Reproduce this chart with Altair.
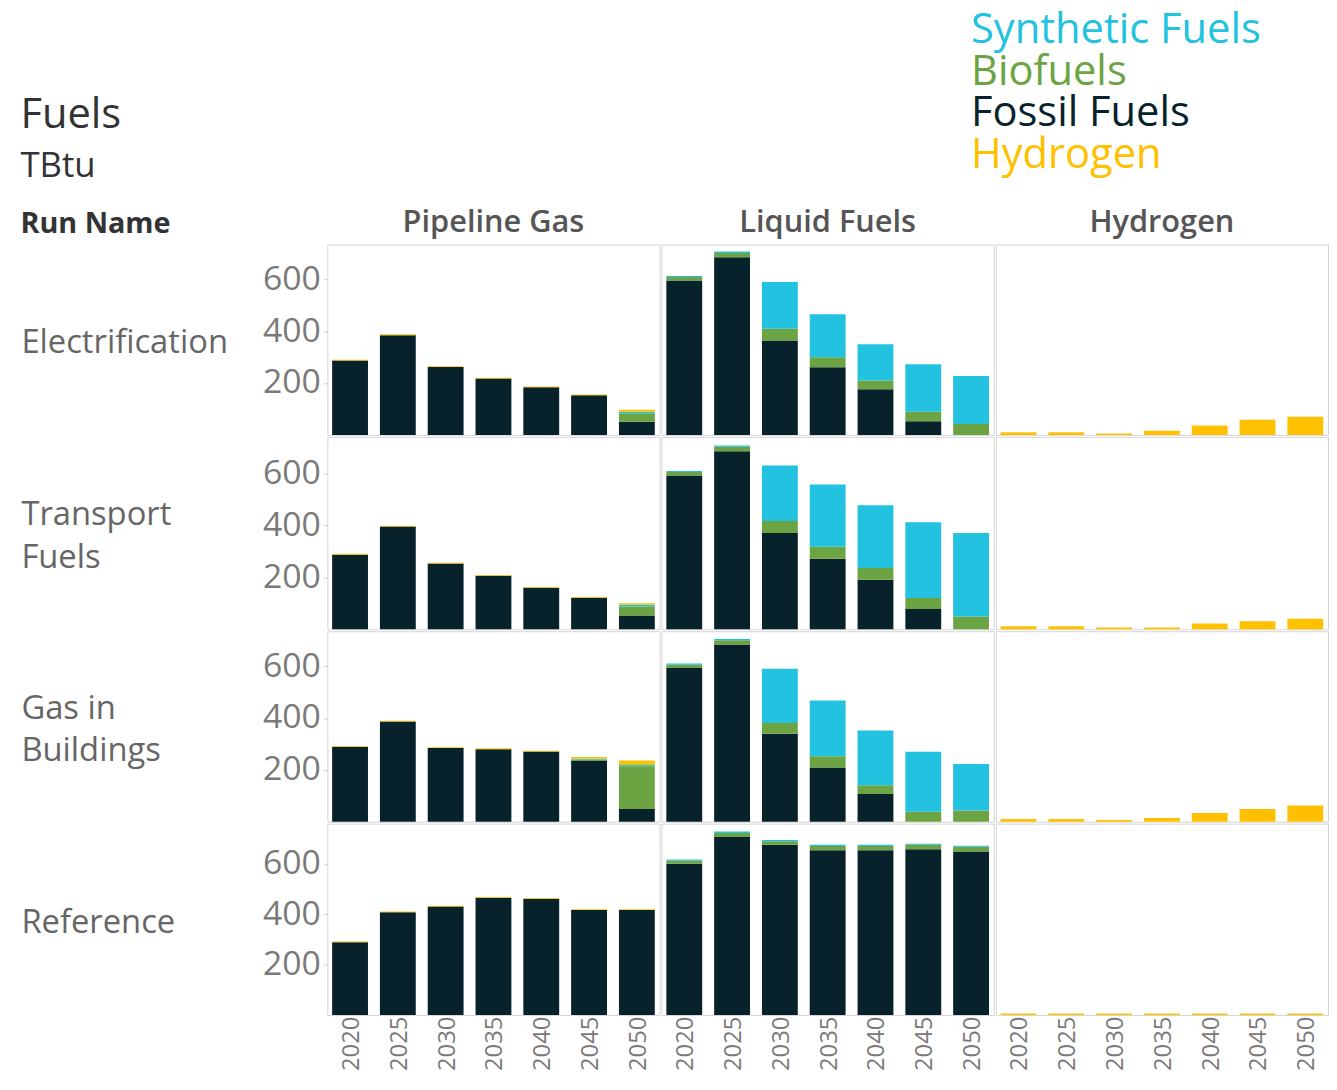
import altair as alt
import pandas as pd

years = [2020, 2025, 2030, 2035, 2040, 2045, 2050]
runs = ["Electrification", "Transport Fuels", "Gas in Buildings", "Reference"]
run_labels = [["Electrification"], ["Transport", "Fuels"], ["Gas in", "Buildings"], ["Reference"]]
fuel_types = ["Pipeline Gas", "Liquid Fuels", "Hydrogen"]
legend_order = ["Synthetic Fuels", "Biofuels", "Fossil Fuels", "Hydrogen"]
legend_colors = ["#22c2e0", "#6ca443", "#07222b", "#ffc000"]
stack_order = ["Fossil Fuels", "Biofuels", "Synthetic Fuels", "Hydrogen"]

# ---- Electrification ----
elec_gas_fossil = [287, 385, 262, 218, 184, 153, 51]
elec_gas_bio = [0, 0, 0, 0, 0, 0, 33]
elec_gas_synth = [0, 0, 0, 0, 0, 0, 5]
elec_gas_h2 = [3, 3, 3, 3, 3, 3, 8]
elec_liq_fossil = [596, 686, 364, 261, 176, 53, 0]
elec_liq_bio = [13, 16, 46, 39, 34, 36, 42]
elec_liq_synth = [4, 6, 180, 166, 140, 184, 185]
elec_h2_h2 = [10, 10, 5, 16, 36, 58, 70]

# ---- Transport Fuels ----
trans_gas_fossil = [287, 395, 253, 206, 160, 121, 53]
trans_gas_bio = [0, 0, 0, 0, 0, 0, 35]
trans_gas_synth = [0, 0, 0, 0, 0, 0, 6]
trans_gas_h2 = [3, 3, 3, 3, 3, 3, 6]
trans_liq_fossil = [591, 685, 370, 271, 190, 78, 0]
trans_liq_bio = [14, 17, 46, 46, 46, 42, 49]
trans_liq_synth = [4, 5, 214, 240, 241, 292, 321]
trans_h2_h2 = [12, 12, 7, 7, 22, 31, 40]

# ---- Gas in Buildings ----
bldg_gas_fossil = [289, 387, 284, 280, 271, 236, 49]
bldg_gas_bio = [0, 0, 0, 0, 0, 4, 165]
bldg_gas_synth = [0, 0, 0, 0, 0, 3, 5]
bldg_gas_h2 = [3, 3, 3, 3, 3, 7, 17]
bldg_liq_fossil = [593, 684, 339, 209, 107, 0, 0]
bldg_liq_bio = [13, 16, 42, 44, 34, 38, 43]
bldg_liq_synth = [5, 5, 209, 215, 211, 232, 180]
bldg_h2_h2 = [10, 10, 6, 14, 33, 49, 62]

# ---- Reference ----
ref_gas_fossil = [289, 408, 431, 466, 462, 417, 417]
ref_gas_h2 = [3, 3, 3, 3, 3, 3, 3]
ref_liq_fossil = [601, 707, 676, 654, 654, 658, 649]
ref_liq_bio = [13, 16, 14, 17, 17, 18, 19]
ref_liq_synth = [4, 6, 5, 5, 5, 4, 4]
ref_h2_h2 = [6, 6, 6, 6, 6, 6, 6]

series = [
    ("Electrification", "Pipeline Gas", "Fossil Fuels", elec_gas_fossil),
    ("Electrification", "Pipeline Gas", "Biofuels", elec_gas_bio),
    ("Electrification", "Pipeline Gas", "Synthetic Fuels", elec_gas_synth),
    ("Electrification", "Pipeline Gas", "Hydrogen", elec_gas_h2),
    ("Electrification", "Liquid Fuels", "Fossil Fuels", elec_liq_fossil),
    ("Electrification", "Liquid Fuels", "Biofuels", elec_liq_bio),
    ("Electrification", "Liquid Fuels", "Synthetic Fuels", elec_liq_synth),
    ("Electrification", "Hydrogen", "Hydrogen", elec_h2_h2),
    ("Transport Fuels", "Pipeline Gas", "Fossil Fuels", trans_gas_fossil),
    ("Transport Fuels", "Pipeline Gas", "Biofuels", trans_gas_bio),
    ("Transport Fuels", "Pipeline Gas", "Synthetic Fuels", trans_gas_synth),
    ("Transport Fuels", "Pipeline Gas", "Hydrogen", trans_gas_h2),
    ("Transport Fuels", "Liquid Fuels", "Fossil Fuels", trans_liq_fossil),
    ("Transport Fuels", "Liquid Fuels", "Biofuels", trans_liq_bio),
    ("Transport Fuels", "Liquid Fuels", "Synthetic Fuels", trans_liq_synth),
    ("Transport Fuels", "Hydrogen", "Hydrogen", trans_h2_h2),
    ("Gas in Buildings", "Pipeline Gas", "Fossil Fuels", bldg_gas_fossil),
    ("Gas in Buildings", "Pipeline Gas", "Biofuels", bldg_gas_bio),
    ("Gas in Buildings", "Pipeline Gas", "Synthetic Fuels", bldg_gas_synth),
    ("Gas in Buildings", "Pipeline Gas", "Hydrogen", bldg_gas_h2),
    ("Gas in Buildings", "Liquid Fuels", "Fossil Fuels", bldg_liq_fossil),
    ("Gas in Buildings", "Liquid Fuels", "Biofuels", bldg_liq_bio),
    ("Gas in Buildings", "Liquid Fuels", "Synthetic Fuels", bldg_liq_synth),
    ("Gas in Buildings", "Hydrogen", "Hydrogen", bldg_h2_h2),
    ("Reference", "Pipeline Gas", "Fossil Fuels", ref_gas_fossil),
    ("Reference", "Pipeline Gas", "Hydrogen", ref_gas_h2),
    ("Reference", "Liquid Fuels", "Fossil Fuels", ref_liq_fossil),
    ("Reference", "Liquid Fuels", "Biofuels", ref_liq_bio),
    ("Reference", "Liquid Fuels", "Synthetic Fuels", ref_liq_synth),
    ("Reference", "Hydrogen", "Hydrogen", ref_h2_h2),
]

records = []
for run, ft, comp, vals in series:
    for yr, v in zip(years, vals):
        records.append({"run": run, "fuel_type": ft, "component": comp,
                        "year": yr, "value": v, "order": stack_order.index(comp)})
df = pd.DataFrame(records)

# layout / style
FONT = "Open Sans"
PANEL_W = 335
ROW_H = [192, 194, 192, 193]
Y_MAX = [735, 740, 735, 760]
LINE_H = 43

color_expr = " : ".join(
    f"datum.value == '{c}' ? '{col}'" for c, col in zip(legend_order, legend_colors)
) + " : '#333'"

legend = alt.Legend(
    title=None, orient="none", legendX=607, legendY=-237,
    labelFontSize=42, labelFont=FONT, labelColor={"expr": color_expr},
    symbolSize=0, symbolOpacity=0, symbolStrokeWidth=0, labelOffset=0,
    rowPadding=0, labelLimit=0,
)


def panel(i, j):
    run, ft = runs[i], fuel_types[j]
    h = ROW_H[i]
    n_lines = len(run_labels[i])
    title_y = h / 2 + 3 - (n_lines - 1) * LINE_H / 2
    x_axis = alt.Axis(labelAngle=-90, labelFontSize=24, labelColor="#7a7a7a", labelFont=FONT,
                      ticks=False, domain=False, title=None, labelPadding=1,
                      labelOffset=2) if i == 3 else None
    y_axis = alt.Axis(values=[200, 400, 600], labelFontSize=34, labelColor="#7a7a7a", labelFont=FONT,
                      grid=False, domain=False, tickSize=4, tickColor="#cccccc", labelPadding=3,
                      title=run_labels[i], titleAngle=0, titleAlign="left", titleBaseline="middle",
                      titleX=-309, titleY=title_y, titleFontSize=33, titleFontWeight="normal",
                      titleColor="#666666", titleFont=FONT, titleLineHeight=LINE_H) if j == 0 else None
    props = dict(width=PANEL_W, height=h)
    if i == 0:
        props["title"] = alt.TitleParams(ft, fontSize=31, font=FONT, fontWeight=600,
                                         color="#555555", offset=6)
    return alt.Chart(df).transform_filter(
        (alt.datum.run == run) & (alt.datum.fuel_type == ft)
    ).mark_bar().encode(
        x=alt.X("year:O", scale=alt.Scale(paddingInner=0.25, paddingOuter=0.1), axis=x_axis),
        y=alt.Y("sum(value):Q", stack="zero",
                scale=alt.Scale(domain=[0, Y_MAX[i]], nice=False, zero=True), axis=y_axis),
        color=alt.Color("component:N", scale=alt.Scale(domain=legend_order, range=legend_colors),
                        legend=legend),
        order=alt.Order("order:Q", sort="ascending"),
    ).properties(**props)


rows = []
for i in range(4):
    kw = dict(spacing=0)
    if i == 0:
        kw["title"] = alt.TitleParams("Run Name", anchor="start", fontSize=29, font=FONT,
                                      fontWeight="bold", color="#333333", offset=-33)
    rows.append(alt.hconcat(*[panel(i, j) for j in range(3)], **kw))

chart = alt.vconcat(*rows, spacing=0).properties(
    title=alt.TitleParams("Fuels", subtitle="TBtu", anchor="start", fontSize=42, font=FONT,
                          fontWeight="normal", color="#333333", subtitleFontSize=35,
                          subtitleFont=FONT, subtitleColor="#333333", subtitlePadding=12,
                          offset=-177),
    padding={"left": 12, "top": -3, "right": 0, "bottom": 0},
).configure_view(stroke="#d4d4d4", strokeWidth=1)

chart.save("out.html", embed_options={"renderer": "svg", "actions": False})
